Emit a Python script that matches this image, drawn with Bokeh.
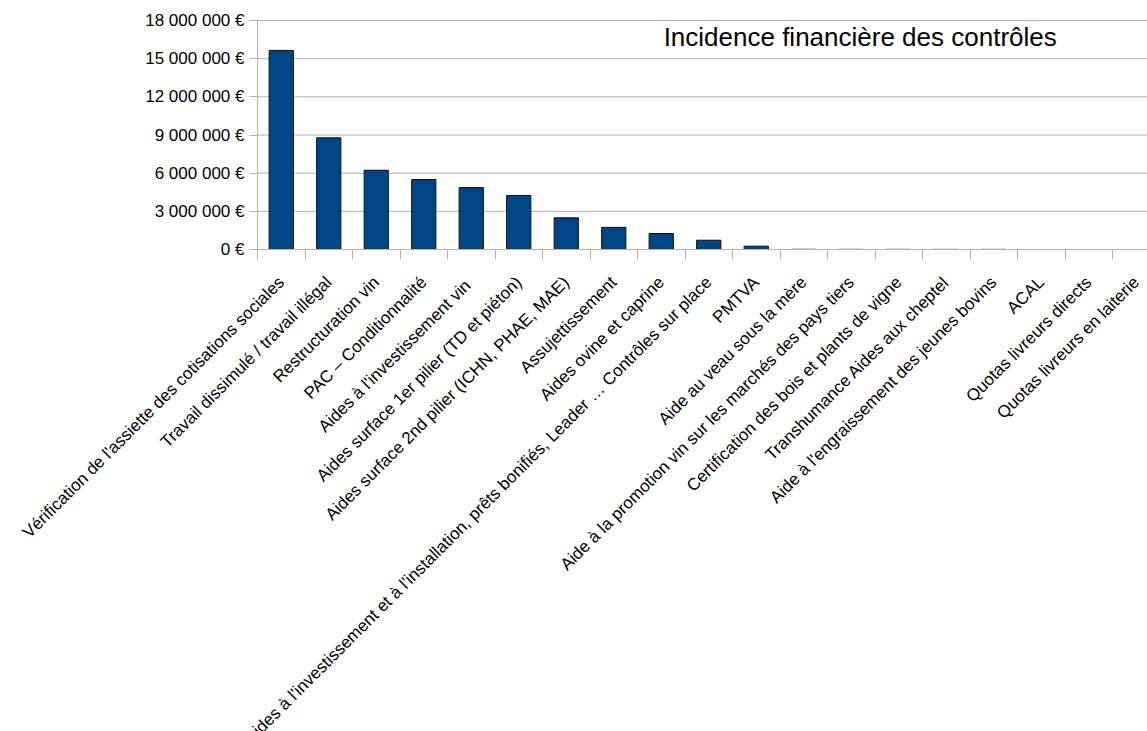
import math
from bokeh.plotting import figure
from bokeh.models import ColumnDataSource, Range1d, FixedTicker, Label
from bokeh.embed import file_html
from bokeh.resources import INLINE

categories = [
    "Vérification de l'assiette des cotisations sociales",
    "Travail dissimulé / travail illégal",
    "Restructuration vin",
    "PAC – Conditionnalité",
    "Aides à l'investissement  vin",
    "Aides surface 1er pilier (TD et piéton)",
    "Aides surface 2nd pilier (ICHN, PHAE, MAE)",
    "Assujettissement",
    "Aides ovine et caprine",
    "Aides à l'investissement et à l'installation, prêts bonifiés, Leader … Contrôles sur place",
    "PMTVA",
    "Aide au veau sous la mère",
    "Aide à la promotion vin sur les marchés des pays tiers",
    "Certification des bois et plants de vigne",
    "Transhumance Aides aux cheptel",
    "Aide à l'engraissement des jeunes bovins",
    "ACAL",
    "Quotas livreurs directs",
    "Quotas livreurs en laiterie",
]
amounts = [15650000, 8780000, 6230000, 5500000, 4870000, 4250000, 2490000,
           1740000, 1260000, 730000, 260000, 15000, 12000, 12000, 10000,
           10000, 0, 0, 0]
y_ticks = [0, 3000000, 6000000, 9000000, 12000000, 15000000, 18000000]
y_tick_labels = ["0 €", "3 000 000 €", "6 000 000 €", "9 000 000 €",
                 "12 000 000 €", "15 000 000 €", "18 000 000 €"]
title_text = "Incidence financière des contrôles"

FONT = "Liberation Sans"
GREY = "#b3b3b3"
Y_MAX = 18000000

# page geometry (px)
W, H = 1147, 731
PX_LEFT, PX_TOP, PX_ZERO = 257, 20, 249
CAT_PX = 47.5
TICK_OUT = 10
STANDOFF = 20

per_px = Y_MAX / (PX_ZERO - PX_TOP)
y_start = -(H - PX_ZERO) * per_px
y_end = Y_MAX + PX_TOP * per_px
x_first = -0.5
x_start = x_first - PX_LEFT / CAT_PX
x_end = x_first + (W - PX_LEFT) / CAT_PX

n = len(categories)
xs = list(range(n))
src = ColumnDataSource(dict(
    x=xs,
    top=amounts,
    la=[1.0 if a > 0 else 0.0 for a in amounts],
))

p = figure(width=W, height=H, output_backend="svg", toolbar_location=None,
           x_range=Range1d(x_start, x_end), y_range=Range1d(y_start, y_end),
           min_border_left=0, min_border_top=0, min_border_bottom=0,
           min_border_right=0)
p.outline_line_color = None
p.background_fill_color = "white"
p.border_fill_color = "white"
p.xgrid.visible = False
p.ygrid.visible = False

# horizontal value grid, only over the plotting area
p.segment(x0=x_first, x1=x_end, y0=y_ticks, y1=y_ticks, line_color=GREY,
          line_width=1)

p.vbar(x="x", top="top", width=0.51, source=src, fill_color="#004586",
       line_color="#111111", line_alpha="la", line_width=1)

# value axis drawn at the left edge of the category area
ya = p.yaxis[0]
ya.fixed_location = x_first
ya.bounds = (-TICK_OUT * per_px, Y_MAX)
ya.ticker = FixedTicker(ticks=y_ticks)
ya.major_label_overrides = {t: l for t, l in zip(y_ticks, y_tick_labels)}
ya.axis_line_color = GREY
ya.major_tick_line_color = GREY
ya.major_tick_out = 8
ya.major_tick_in = 0
ya.minor_tick_line_color = None
ya.major_label_standoff = 5
ya.major_label_text_font = FONT
ya.major_label_text_font_size = "17px"
ya.major_label_text_color = "black"

# category axis drawn at value 0; labels at centres, ticks between categories
xa = p.xaxis[0]
xa.fixed_location = 0
xa.bounds = (x_first, x_end)
xa.ticker = FixedTicker(ticks=xs, minor_ticks=[i - 0.5 for i in range(n + 1)])
xa.major_label_overrides = {i: c for i, c in zip(xs, categories)}
xa.major_label_orientation = math.pi / 4
xa.major_label_text_font = FONT
xa.major_label_text_font_size = "17px"
xa.major_label_text_color = "black"
xa.major_label_standoff = STANDOFF
xa.axis_line_color = GREY
xa.minor_tick_line_color = GREY
xa.minor_tick_out = TICK_OUT
xa.minor_tick_in = 0
xa.major_tick_line_color = None
xa.major_tick_out = TICK_OUT
xa.major_tick_in = 0

title = Label(x=8.05, y=16690000, text=title_text, text_font=FONT,
              text_font_size="26px", text_color="black",
              text_baseline="alphabetic", text_align="left")
p.add_layout(title)

open("out.html", "w").write(file_html(p, INLINE))
